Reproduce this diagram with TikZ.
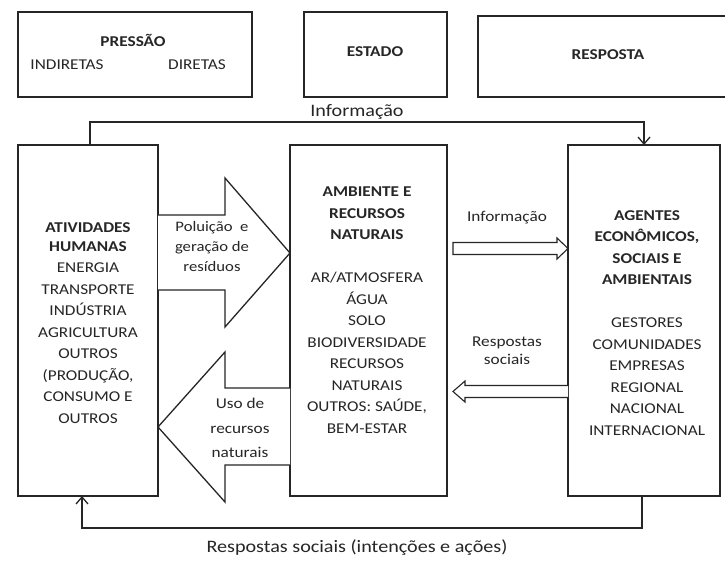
\documentclass[tikz,border=0pt]{standalone}
\usepackage{fontspec}
\setmainfont{Carlito}[FakeStretch=1.15]
\usetikzlibrary{arrows.meta}
\definecolor{ink}{HTML}{262626}
\tikzset{
  box/.style={draw=ink,line width=1.3pt,inner sep=0pt,outer sep=0pt},
  txt/.style={text=ink,inner sep=0pt,align=center,font=\fontsize{15}{21.5}\selectfont},
  smalltxt/.style={text=ink,inner sep=0pt,align=center,font=\fontsize{14.5}{20}\selectfont},
  bigtxt/.style={text=ink,inner sep=0pt,align=center,font=\fontsize{17.5}{21}\selectfont},
  conn/.style={draw=ink,line width=1.3pt},
  blockarrow/.style={draw=ink,line width=1.3pt,fill=white,line join=miter},
  tip/.style={-{Straight Barb[length=7pt,width=12pt,line width=1.3pt]}}
}
\begin{document}
\begin{tikzpicture}[x=1pt,y=-1pt]
\clip (0,0) rectangle (725,561);
\fill[white] (0,0) rectangle (725,561);

% top boxes
\node[box,minimum width=234pt,minimum height=85pt] (pressao) at (135,54.5) {};
\node[box,minimum width=143pt,minimum height=85pt] (estado) at (375.5,54.5) {};
\node[box,minimum width=250pt,minimum height=81pt] (resposta) at (603,56.5) {};
\node[txt,font=\fontsize{15}{18}\selectfont\bfseries] (tpressao) at (133,40) {PRESSÃO};
\node[txt] (tind) at (67,65) {INDIRETAS};
\node[txt] (tdir) at (197,65) {DIRETAS};
\node[txt,font=\fontsize{15}{18}\selectfont\bfseries] (testado) at (375,52) {ESTADO};
\node[txt,font=\fontsize{15}{18}\selectfont\bfseries] (tresposta) at (608,55) {RESPOSTA};

% main boxes
\node[box,minimum width=140pt,minimum height=351pt] (ativ) at (88,320.5) {};
\node[box,minimum width=157pt,minimum height=351pt] (amb) at (368.5,320.5) {};
\node[box,minimum width=152pt,minimum height=351pt] (agen) at (644,320.5) {};

\node[txt] (tativ) at (88,323) {\textbf{ATIVIDADES}\\[-3pt]\textbf{HUMANAS}\\ENERGIA\\TRANSPORTE\\INDÚSTRIA\\AGRICULTURA\\OUTROS\\(PRODUÇÃO,\\CONSUMO E\\OUTROS};
\node[txt] (tamb) at (367,310) {\textbf{AMBIENTE E}\\\textbf{RECURSOS}\\\textbf{NATURAIS}\\[21.5pt]AR/ATMOSFERA\\ÁGUA\\SOLO\\BIODIVERSIDADE\\RECURSOS\\NATURAIS\\OUTROS: SAÚDE,\\BEM-ESTAR};
\node[txt] (tagen) at (647,323) {\textbf{AGENTES}\\\textbf{ECONÔMICOS,}\\\textbf{SOCIAIS E}\\\textbf{AMBIENTAIS}\\[21.5pt]GESTORES\\COMUNIDADES\\EMPRESAS\\REGIONAL\\NACIONAL\\INTERNACIONAL};

% block arrow: pollution
\draw[blockarrow] (ativ.east |- 0,215) -- (225,215) -- (225,178) -- (amb.west |- 0,253) -- (225,327) -- (225,290) -- (ativ.east |- 0,290);
\node[smalltxt] (tpol) at (212,247) {Poluição\ \ e\\geração de\\resíduos};

% block arrow: use of resources
\draw[blockarrow] (amb.west |- 0,388) -- (225,388) -- (225,352) -- (ativ.east |- 0,427) -- (225,502) -- (225,465) -- (amb.west |- 0,465);
\node[txt,font=\fontsize{15}{24.5}\selectfont] (tuso) at (240,428) {Uso de\\recursos\\naturais};

% information arrow (middle -> right)
\draw[blockarrow,line width=1.1pt] (453,242.5) -- (557,242.5) -- (557,238) -- (agen.west |- 0,248.5) -- (557,259) -- (557,254.5) -- (453,254.5) -- cycle;
\node[txt] (tinfo) at (507,218) {Informação};

% social responses arrow (right -> middle)
\draw[blockarrow,line width=1.1pt] (agen.west |- 0,385.5) -- (465,385.5) -- (465,381) -- (453,391.5) -- (465,402) -- (465,397.5) -- (agen.west |- 0,397.5);
\node[txt,font=\fontsize{15}{18}\selectfont] (tresp) at (507,351) {Respostas\\sociais};

% feedback connectors
\coordinate (topy) at (0,122);
\coordinate (boty) at (0,528);
\draw[conn,tip] ([xshift=2pt]ativ.north) -- ([xshift=2pt]ativ.north |- topy) -- (agen.north |- topy) -- (agen.north);
\node[bigtxt] (tinfotop) at (357,112) {Informação};
\draw[conn,tip] ([xshift=-2pt]agen.south) -- ([xshift=-2pt]agen.south |- boty) -- ([xshift=-6pt]ativ.south |- boty) -- ([xshift=-6pt]ativ.south);
\node[bigtxt] (trespbot) at (357,548) {Respostas sociais (intenções e ações)};
\end{tikzpicture}
\end{document}
